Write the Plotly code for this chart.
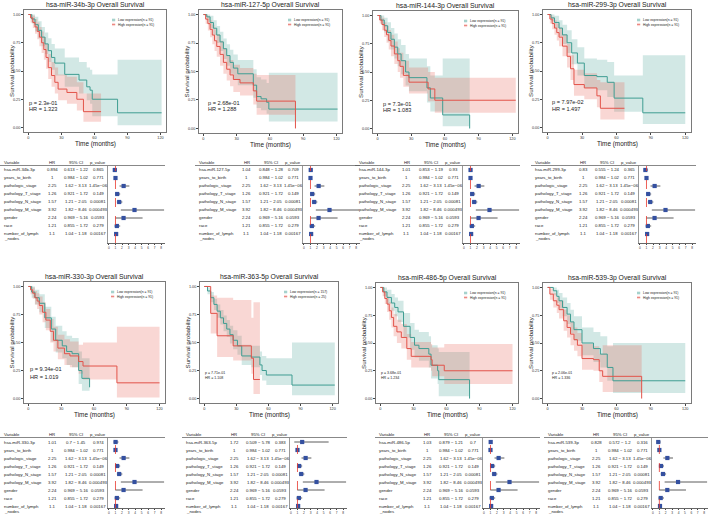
import plotly.graph_objects as go

# ======================= DATA =======================
MIRS = ["hsa-miR-34b-3p", "hsa-miR-127-5p", "hsa-miR-144-3p", "hsa-miR-299-3p",
        "hsa-miR-330-3p", "hsa-miR-363-5p", "hsa-miR-486-5p", "hsa-miR-539-3p"]
LOW_N = [91, 91, 91, 91, 91, 157, 91, 91]
HIGH_N = [91, 91, 91, 91, 91, 25, 91, 91]
P_TEXT = ["2.3e-01", "2.68e-01", "7.3e-01", "7.97e-02", "9.34e-01", "7.71e-01", "3.68e-01", "2.06e-01"]
HR_TEXT = ["1.323", "1.288", "1.083", "1.497", "1.019", "1.108", "1.234", "1.336"]

# Kaplan-Meier steps (time, survival, lower CI, upper CI)
P1_LOW_T = [0, 3, 6, 9, 12, 15, 18, 21, 24, 33, 46, 53, 56, 58, 81, 121]
P1_LOW_S = [1.0, 0.96, 0.91, 0.86, 0.80, 0.74, 0.68, 0.62, 0.57, 0.47, 0.42, 0.36, 0.33, 0.25, 0.13, 0.13]
P1_LOW_L = [1.0, 0.92, 0.85, 0.79, 0.72, 0.65, 0.58, 0.51, 0.46, 0.36, 0.30, 0.24, 0.21, 0.10, 0.02, 0.02]
P1_LOW_U = [1.0, 1.0, 0.98, 0.94, 0.89, 0.84, 0.79, 0.74, 0.70, 0.62, 0.58, 0.53, 0.51, 0.47, 0.60, 0.60]
P1_HIGH_T = [0, 2, 4, 6, 8, 10, 12, 14, 16, 18, 21, 24, 27, 35, 44, 50, 66]
P1_HIGH_S = [1.0, 0.97, 0.93, 0.89, 0.85, 0.80, 0.75, 0.69, 0.62, 0.53, 0.46, 0.40, 0.34, 0.31, 0.25, 0.14, 0.14]
P1_HIGH_L = [1.0, 0.93, 0.88, 0.83, 0.78, 0.72, 0.66, 0.60, 0.52, 0.43, 0.36, 0.30, 0.24, 0.21, 0.15, 0.05, 0.05]
P1_HIGH_U = [1.0, 1.0, 0.99, 0.96, 0.93, 0.89, 0.85, 0.80, 0.74, 0.65, 0.58, 0.53, 0.47, 0.45, 0.40, 0.30, 0.30]

P2_LOW_T = [0, 3, 6, 9, 12, 15, 18, 21, 24, 27, 31, 45, 48, 52, 57, 59, 121]
P2_LOW_S = [1.0, 0.98, 0.93, 0.88, 0.82, 0.76, 0.70, 0.64, 0.58, 0.53, 0.48, 0.38, 0.28, 0.26, 0.23, 0.17, 0.17]
P2_LOW_L = [1.0, 0.95, 0.88, 0.82, 0.75, 0.68, 0.61, 0.55, 0.48, 0.43, 0.38, 0.27, 0.18, 0.16, 0.13, 0.06, 0.06]
P2_LOW_U = [1.0, 1.0, 0.99, 0.95, 0.90, 0.85, 0.79, 0.74, 0.69, 0.65, 0.60, 0.52, 0.45, 0.43, 0.40, 0.49, 0.49]
P2_HIGH_T = [0, 2, 4, 6, 8, 10, 12, 15, 18, 21, 24, 27, 33, 45, 48, 83]
P2_HIGH_S = [1.0, 0.96, 0.92, 0.87, 0.82, 0.77, 0.72, 0.65, 0.58, 0.52, 0.47, 0.43, 0.40, 0.33, 0.24, 0.0]
P2_HIGH_L = [1.0, 0.92, 0.86, 0.80, 0.74, 0.68, 0.63, 0.55, 0.48, 0.42, 0.37, 0.32, 0.29, 0.21, 0.12, 0.12]
P2_HIGH_U = [1.0, 1.0, 0.98, 0.95, 0.91, 0.87, 0.83, 0.77, 0.70, 0.64, 0.60, 0.56, 0.53, 0.48, 0.47, 0.47]

P3_LOW_T = [0, 3, 6, 9, 12, 15, 18, 21, 25, 28, 44, 47, 58, 82]
P3_LOW_S = [1.0, 0.96, 0.91, 0.85, 0.79, 0.72, 0.66, 0.60, 0.50, 0.45, 0.36, 0.27, 0.12, 0.0]
P3_LOW_L = [1.0, 0.92, 0.85, 0.77, 0.70, 0.62, 0.55, 0.48, 0.38, 0.33, 0.23, 0.15, 0.02, 0.02]
P3_LOW_U = [1.0, 1.0, 0.98, 0.94, 0.89, 0.84, 0.79, 0.74, 0.66, 0.62, 0.55, 0.47, 0.62, 0.62]
P3_HIGH_T = [0, 2, 4, 6, 8, 10, 12, 15, 18, 20, 23, 28, 45, 51, 123]
P3_HIGH_S = [1.0, 0.96, 0.92, 0.87, 0.83, 0.78, 0.73, 0.66, 0.60, 0.55, 0.47, 0.41, 0.35, 0.25, 0.25]
P3_HIGH_L = [1.0, 0.93, 0.87, 0.81, 0.76, 0.70, 0.64, 0.57, 0.50, 0.45, 0.37, 0.31, 0.24, 0.14, 0.14]
P3_HIGH_U = [1.0, 1.0, 0.98, 0.94, 0.91, 0.87, 0.83, 0.77, 0.71, 0.67, 0.60, 0.54, 0.50, 0.45, 0.45]

P4_LOW_T = [0, 3, 6, 10, 13, 17, 21, 26, 32, 43, 52, 58, 83, 120]
P4_LOW_S = [1.0, 0.97, 0.93, 0.88, 0.82, 0.75, 0.66, 0.57, 0.46, 0.45, 0.40, 0.26, 0.13, 0.13]
P4_LOW_L = [1.0, 0.94, 0.88, 0.81, 0.74, 0.66, 0.56, 0.46, 0.35, 0.33, 0.27, 0.14, 0.03, 0.03]
P4_LOW_U = [1.0, 1.0, 0.99, 0.95, 0.91, 0.86, 0.78, 0.71, 0.61, 0.60, 0.58, 0.46, 0.64, 0.64]
P4_HIGH_T = [0, 2, 4, 6, 8, 10, 13, 17, 20, 23, 32, 43, 46, 67]
P4_HIGH_S = [1.0, 0.96, 0.92, 0.88, 0.84, 0.80, 0.72, 0.63, 0.52, 0.38, 0.35, 0.28, 0.17, 0.17]
P4_HIGH_L = [1.0, 0.92, 0.87, 0.82, 0.77, 0.72, 0.63, 0.53, 0.42, 0.28, 0.25, 0.18, 0.07, 0.07]
P4_HIGH_U = [1.0, 1.0, 0.98, 0.95, 0.92, 0.88, 0.82, 0.74, 0.64, 0.51, 0.48, 0.42, 0.40, 0.40]

P5_LOW_T = [0, 3, 6, 10, 15, 21, 25, 31, 35, 40, 46, 49, 56]
P5_LOW_S = [1.0, 0.95, 0.90, 0.85, 0.72, 0.62, 0.52, 0.47, 0.42, 0.40, 0.25, 0.18, 0.10]
P5_LOW_L = [1.0, 0.90, 0.84, 0.77, 0.63, 0.51, 0.41, 0.36, 0.30, 0.28, 0.13, 0.07, 0.02]
P5_LOW_U = [1.0, 1.0, 0.97, 0.93, 0.82, 0.73, 0.65, 0.60, 0.56, 0.54, 0.42, 0.36, 0.28]
P5_HIGH_T = [0, 2, 4, 6, 8, 10, 13, 16, 20, 23, 27, 33, 38, 46, 50, 81, 120]
P5_HIGH_S = [1.0, 0.97, 0.94, 0.90, 0.87, 0.83, 0.77, 0.70, 0.60, 0.52, 0.45, 0.40, 0.38, 0.33, 0.29, 0.14, 0.14]
P5_HIGH_L = [1.0, 0.93, 0.89, 0.84, 0.80, 0.75, 0.68, 0.61, 0.50, 0.42, 0.35, 0.30, 0.28, 0.22, 0.17, 0.01, 0.01]
P5_HIGH_U = [1.0, 1.0, 0.99, 0.96, 0.94, 0.91, 0.86, 0.80, 0.71, 0.64, 0.57, 0.53, 0.51, 0.48, 0.50, 0.64, 0.64]

P6_LOW_T = [0, 3, 6, 9, 12, 15, 18, 21, 24, 27, 31, 35, 44, 52, 54, 58, 82, 122]
P6_LOW_S = [1.0, 0.96, 0.90, 0.84, 0.78, 0.72, 0.67, 0.62, 0.57, 0.52, 0.47, 0.38, 0.37, 0.30, 0.25, 0.21, 0.12, 0.12]
P6_LOW_L = [1.0, 0.93, 0.86, 0.79, 0.72, 0.66, 0.60, 0.55, 0.49, 0.44, 0.39, 0.30, 0.28, 0.21, 0.16, 0.12, 0.03, 0.03]
P6_LOW_U = [1.0, 0.99, 0.95, 0.89, 0.84, 0.79, 0.74, 0.70, 0.65, 0.61, 0.56, 0.48, 0.47, 0.42, 0.38, 0.36, 0.50, 0.50]
P6_HIGH_T = [0, 6, 12, 27, 44, 46, 52]
P6_HIGH_S = [1.0, 0.76, 0.56, 0.47, 0.36, 0.17, 0.17]
P6_HIGH_L = [1.0, 0.58, 0.37, 0.34, 0.22, 0.04, 0.04]
P6_HIGH_U = [1.0, 0.92, 0.90, 0.88, 0.72, 0.86, 0.86]

P7_LOW_T = [0, 3, 6, 10, 13, 16, 21, 27, 31, 35, 44, 46, 52, 53, 81]
P7_LOW_S = [1.0, 0.96, 0.91, 0.86, 0.82, 0.78, 0.65, 0.55, 0.48, 0.45, 0.40, 0.30, 0.25, 0.17, 0.0]
P7_LOW_L = [1.0, 0.92, 0.85, 0.79, 0.74, 0.69, 0.55, 0.44, 0.37, 0.34, 0.28, 0.18, 0.13, 0.02, 0.02]
P7_LOW_U = [1.0, 1.0, 0.98, 0.94, 0.91, 0.88, 0.77, 0.68, 0.62, 0.60, 0.56, 0.48, 0.45, 0.42, 0.42]
P7_HIGH_T = [0, 2, 4, 6, 8, 10, 12, 15, 19, 24, 28, 46, 47, 58, 120]
P7_HIGH_S = [1.0, 0.96, 0.90, 0.85, 0.79, 0.73, 0.65, 0.60, 0.55, 0.45, 0.38, 0.35, 0.30, 0.25, 0.25]
P7_HIGH_L = [1.0, 0.92, 0.85, 0.78, 0.71, 0.64, 0.56, 0.50, 0.45, 0.35, 0.28, 0.25, 0.20, 0.13, 0.13]
P7_HIGH_U = [1.0, 1.0, 0.96, 0.92, 0.87, 0.82, 0.76, 0.71, 0.67, 0.58, 0.51, 0.49, 0.46, 0.49, 0.49]

P8_LOW_T = [0, 5, 8, 10, 13, 17, 20, 23, 30, 40, 46, 52, 57, 120]
P8_LOW_S = [1.0, 0.97, 0.92, 0.88, 0.82, 0.76, 0.69, 0.62, 0.50, 0.45, 0.40, 0.28, 0.16, 0.16]
P8_LOW_L = [1.0, 0.93, 0.86, 0.81, 0.74, 0.67, 0.59, 0.52, 0.39, 0.33, 0.28, 0.16, 0.05, 0.05]
P8_LOW_U = [1.0, 1.0, 0.98, 0.95, 0.91, 0.86, 0.80, 0.74, 0.64, 0.60, 0.56, 0.47, 0.50, 0.50]
P8_HIGH_T = [0, 2, 5, 8, 10, 14, 17, 20, 23, 26, 30, 40, 45, 48, 82]
P8_HIGH_S = [1.0, 0.94, 0.88, 0.84, 0.80, 0.70, 0.64, 0.58, 0.53, 0.48, 0.36, 0.35, 0.25, 0.20, 0.0]
P8_HIGH_L = [1.0, 0.89, 0.82, 0.77, 0.72, 0.61, 0.55, 0.48, 0.43, 0.38, 0.26, 0.25, 0.15, 0.06, 0.06]
P8_HIGH_U = [1.0, 0.99, 0.95, 0.91, 0.88, 0.80, 0.75, 0.69, 0.64, 0.59, 0.49, 0.47, 0.40, 0.48, 0.48]

# Forest / Cox table
MIR_HR = [0.894, 1.04, 1.01, 0.83, 1.01, 1.72, 1.03, 0.828]
MIR_LO = [0.613, 0.848, 0.853, 0.555, 0.7, 0.509, 0.879, 0.572]
MIR_HI = [1.22, 1.28, 1.19, 1.24, 1.45, 5.78, 1.21, 1.2]
MIR_P = ["0.865", "0.709", "0.93", "0.365", "0.974", "0.383", "0.7", "0.316"]
COV_NAMES = ["years_to_birth", "pathologic_stage", "pathology_T_stage", "pathology_N_stage",
             "pathology_M_stage", "gender", "race", "number_of_lymph"]
COV_HR = [1.0, 2.25, 1.26, 1.57, 3.92, 2.24, 1.21, 1.1]
COV_LO = [0.984, 1.62, 0.921, 1.21, 1.82, 0.969, 0.855, 1.04]
COV_HI = [1.02, 3.13, 1.72, 2.05, 8.46, 5.16, 1.72, 1.18]
COV_P = ["0.771", "1.45e\u221206", "0.149", "0.00081", "0.000493", "0.0593", "0.279", "0.00167"]
HEADERS = ["Variable", "HR", "95% CI", "p_value"]
FOREST_TICKS = [0, 1, 2, 3, 4, 5, 6, 7, 8]

KM = [
    (P1_LOW_T, P1_LOW_S, P1_LOW_L, P1_LOW_U, P1_HIGH_T, P1_HIGH_S, P1_HIGH_L, P1_HIGH_U),
    (P2_LOW_T, P2_LOW_S, P2_LOW_L, P2_LOW_U, P2_HIGH_T, P2_HIGH_S, P2_HIGH_L, P2_HIGH_U),
    (P3_LOW_T, P3_LOW_S, P3_LOW_L, P3_LOW_U, P3_HIGH_T, P3_HIGH_S, P3_HIGH_L, P3_HIGH_U),
    (P4_LOW_T, P4_LOW_S, P4_LOW_L, P4_LOW_U, P4_HIGH_T, P4_HIGH_S, P4_HIGH_L, P4_HIGH_U),
    (P5_LOW_T, P5_LOW_S, P5_LOW_L, P5_LOW_U, P5_HIGH_T, P5_HIGH_S, P5_HIGH_L, P5_HIGH_U),
    (P6_LOW_T, P6_LOW_S, P6_LOW_L, P6_LOW_U, P6_HIGH_T, P6_HIGH_S, P6_HIGH_L, P6_HIGH_U),
    (P7_LOW_T, P7_LOW_S, P7_LOW_L, P7_LOW_U, P7_HIGH_T, P7_HIGH_S, P7_HIGH_L, P7_HIGH_U),
    (P8_LOW_T, P8_LOW_S, P8_LOW_L, P8_LOW_U, P8_HIGH_T, P8_HIGH_S, P8_HIGH_L, P8_HIGH_U),
]

# ======================= STYLE / LAYOUT =======================
W, H = 708, 515
FONT = "Liberation Sans, Arial, sans-serif"
TEAL = "#3f9d92"
RED = "#e2534a"
TEAL_FILL = "rgba(80,165,155,0.26)"
RED_FILL = "rgba(232,100,88,0.26)"
BLUE = "#3450a0"

# KM plot boxes in pixels: left, right, top, bottom
KM_BOX = [(24, 166, 10, 132), (199, 342, 10, 133), (373, 518, 11, 133), (543, 691, 10, 132),
          (24, 165, 282, 403), (200, 338, 282, 403), (376, 518, 283, 403), (543, 691, 283, 403)]
# p / HR label: x, y(p), line gap, font size
PHR_POS = [(27, 103, 6.5, 5.6), (206, 103, 6.5, 5.6), (381, 104, 6.5, 5.6), (550, 102, 6.5, 5.6),
           (28, 369, 7.5, 5.6), (203, 373, 5, 3.6), (379, 373, 5, 3.6), (550, 373, 5, 3.6)]
# forest plot left edge, top (pixel for row 0.5) and bottom (axis line)
FL = [108, 303, 463, 639, 108, 290, 483, 652]
FT = [166, 166, 166, 166, 438, 438, 438, 438]
FB = [243, 243, 243, 243, 508, 508, 508, 508]
ROW_PX = 8.0


def fx(p):
    return p / W


def fy(p):
    return 1 - p / H


fig = go.Figure()
layout = dict(width=W, height=H, margin=dict(l=0, r=0, t=0, b=0),
              paper_bgcolor="white", plot_bgcolor="white", showlegend=False,
              font=dict(family=FONT, color="#222"))
annotations = []
shapes = []


def ann(x, y, text, size, xanchor="left", yanchor="middle", xref="paper", yref="paper",
        color="#222", textangle=0):
    annotations.append(dict(x=x, y=y, text=text, xref=xref, yref=yref, showarrow=False,
                            xanchor=xanchor, yanchor=yanchor, textangle=textangle,
                            font=dict(size=size, color=color, family=FONT)))


# ---------------- KM panels ----------------
for k in range(8):
    n = k + 1
    xa, ya = ("x", "y") if n == 1 else (f"x{n}", f"y{n}")
    l, r, t, b = KM_BOX[k]
    lt, ls, ll, lu, ht, hs, hl, hu = KM[k]
    for (tt, lo, up, fc) in [(lt, ll, lu, TEAL_FILL), (ht, hl, hu, RED_FILL)]:
        fig.add_trace(go.Scatter(x=tt, y=up, mode="lines", line=dict(width=0, shape="hv"),
                                 xaxis=xa, yaxis=ya, hoverinfo="skip"))
        fig.add_trace(go.Scatter(x=tt, y=lo, mode="lines", line=dict(width=0, shape="hv"),
                                 fill="tonexty", fillcolor=fc, xaxis=xa, yaxis=ya, hoverinfo="skip"))
    for (tt, ss, c) in [(lt, ls, TEAL), (ht, hs, RED)]:
        fig.add_trace(go.Scatter(x=tt, y=ss, mode="lines", line=dict(width=1.0, color=c, shape="hv"),
                                 xaxis=xa, yaxis=ya, hoverinfo="skip"))
    key_x = "xaxis" if n == 1 else f"xaxis{n}"
    key_y = "yaxis" if n == 1 else f"yaxis{n}"
    common = dict(showline=True, mirror=True, linecolor="#7a7a7a", linewidth=0.8, ticks="outside",
                  ticklen=2, tickwidth=0.5, tickcolor="#444", showgrid=False, zeroline=False,
                  tickfont=dict(size=3.8, color="#333", family=FONT))
    layout[key_x] = dict(domain=[fx(l), fx(r)], range=[-4, 125], tickvals=[0, 30, 60, 90, 120],
                         anchor=ya, **common)
    layout[key_y] = dict(domain=[fy(b), fy(t)], range=[-0.04, 1.04], tickvals=[0, 0.25, 0.5, 0.75, 1],
                         ticktext=["0.00", "0.25", "0.50", "0.75", "1.00"], anchor=xa, **common)
    # titles
    ann(fx((l + r) / 2), fy(t - 5), f"{MIRS[k]} Overall Survival", 6.8, xanchor="center")
    ann(fx((l + r) / 2), fy(b + 12), "Time (months)", 6.4, xanchor="center")
    ann(fx(l - 13), fy((t + b) / 2), "Survival probability", 6.2, xanchor="center", textangle=-90)
    # legend
    kx = r - 54
    for i, (lab, nn, fc, lc) in enumerate([("Low expression", LOW_N[k], TEAL_FILL, TEAL),
                                            ("High expression", HIGH_N[k], RED_FILL, RED)]):
        cy = t + 10 + i * 4.5
        shapes.append(dict(type="rect", xref="paper", yref="paper", x0=fx(kx), x1=fx(kx + 3.2),
                           y0=fy(cy + 1.6), y1=fy(cy - 1.6), fillcolor=fc, line=dict(width=0)))
        shapes.append(dict(type="line", xref="paper", yref="paper", x0=fx(kx), x1=fx(kx + 3.2),
                           y0=fy(cy), y1=fy(cy), line=dict(width=0.6, color=lc)))
        ann(fx(kx + 4.2), fy(cy), f"{lab}(n = {nn})", 3.4)
    px_, py_, gap, fs = PHR_POS[k]
    ann(fx(px_), fy(py_), f"p = {P_TEXT[k]}", fs)
    ann(fx(px_), fy(py_ + gap), f"HR = {HR_TEXT[k]}", fs)

# ---------------- forest panels ----------------
for k in range(8):
    n = 9 + k
    xa, ya = f"x{n}", f"y{n}"
    fl = FL[k]
    fr = min(fl + 57, W)
    top = FT[k]
    bot = FB[k]
    vmax = 0.5 + (bot - top) / ROW_PX
    hrs = [MIR_HR[k]] + COV_HR
    los = [MIR_LO[k]] + COV_LO
    his = [MIR_HI[k]] + COV_HI
    ps = [MIR_P[k]] + COV_P
    names = [MIRS[k]] + COV_NAMES
    rows = list(range(1, 10))
    lx, ly = [], []
    for i in range(9):
        lx += [los[i], his[i], None]
        ly += [rows[i], rows[i], None]
    fig.add_trace(go.Scatter(x=lx, y=ly, mode="lines", line=dict(color="#333", width=0.8),
                             xaxis=xa, yaxis=ya, hoverinfo="skip"))
    fig.add_trace(go.Scatter(x=hrs, y=rows, mode="markers",
                             marker=dict(symbol="square", size=4.2, color=BLUE, line=dict(width=0)),
                             xaxis=xa, yaxis=ya, hoverinfo="skip"))
    layout[f"xaxis{n}"] = dict(domain=[fx(fl), fx(fr)], range=[-0.15, 8.6], tickvals=FOREST_TICKS,
                               anchor=ya, showline=True, linecolor="#666", linewidth=0.6,
                               ticks="outside", ticklen=1.2, tickwidth=0.5, tickcolor="#444",
                               showgrid=False, zeroline=False,
                               tickfont=dict(size=3.2, color="#333", family=FONT))
    layout[f"yaxis{n}"] = dict(domain=[fy(bot), fy(top)], range=[vmax, 0.5], anchor=xa,
                               showline=True, linecolor="#999", linewidth=0.6, showticklabels=False,
                               ticks="", showgrid=False, zeroline=False)
    shapes.append(dict(type="line", xref=xa, yref=f"{ya} domain", x0=1, x1=1, y0=0, y1=1,
                       line=dict(color="#e8392f", width=0.8, dash="dash")))
    # header line
    shapes.append(dict(type="line", xref="paper", yref="paper", x0=fx(fl - 108), x1=fx(fr),
                       y0=fy(top - 0.5), y1=fy(top - 0.5), line=dict(color="#555", width=0.7)))
    fs = 4.3
    hy = fy(top - 4)
    ann(fx(fl - 106), hy, HEADERS[0], fs)
    ann(fx(fl - 56), hy, HEADERS[1], fs, xanchor="center")
    ann(fx(fl - 32), hy, HEADERS[2], fs, xanchor="center")
    ann(fx(fl - 10), hy, HEADERS[3], fs, xanchor="center")
    for i in range(9):
        ann(fx(fl - 106), rows[i], names[i], fs, yref=ya)
        ann(fx(fl - 56), rows[i], f"{hrs[i]:g}", fs, xanchor="center", yref=ya)
        ann(fx(fl - 32), rows[i], f"{los[i]:g} \u2212 {his[i]:g}", fs, xanchor="center", yref=ya)
        ann(fx(fl - 10), rows[i], ps[i], fs, xanchor="center", yref=ya)
    ann(fx(fl - 106), fy(top + 8.5 * ROW_PX + 5), "_nodes", fs)

layout["annotations"] = annotations
layout["shapes"] = shapes
fig.update_layout(**layout)
fig.write_html("out.html", config={"displayModeBar": False},
               post_script="document.body.style.margin='0';document.body.style.overflow='hidden';")
